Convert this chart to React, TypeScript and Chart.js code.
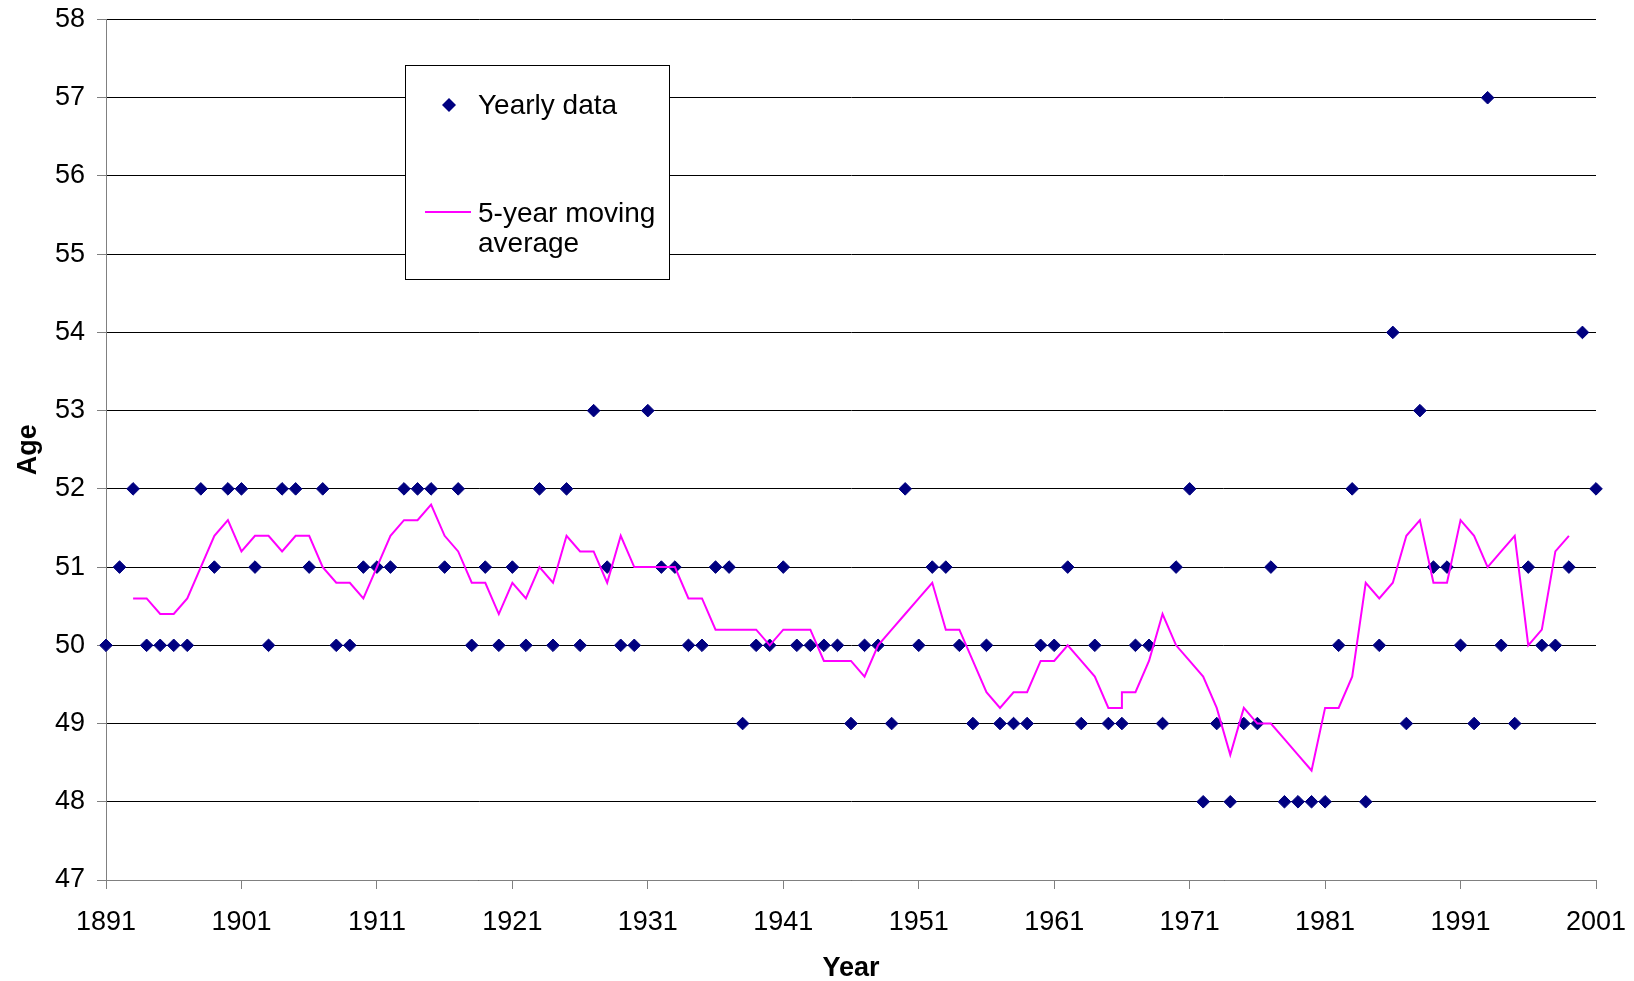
import React, { useEffect, useRef } from "react";
import { Chart, registerables } from "chart.js";

Chart.register(...registerables);

// ---- Data ----
const years: number[] = [
  1891, 1892, 1893, 1894, 1895, 1896, 1897, 1898, 1899, 1900,
  1901, 1902, 1903, 1904, 1905, 1906, 1907, 1908, 1909, 1910,
  1911, 1912, 1913, 1914, 1915, 1916, 1917, 1918, 1919, 1920,
  1921, 1922, 1923, 1924, 1925, 1926, 1927, 1928, 1929, 1930,
  1931, 1932, 1933, 1934, 1935, 1936, 1937, 1938, 1939, 1940,
  1941, 1942, 1943, 1944, 1945, 1946, 1947, 1948, 1949, 1950,
  1951, 1952, 1953, 1954, 1955, 1956, 1957, 1958, 1959, 1960,
  1961, 1962, 1963, 1964, 1965, 1966, 1967, 1968, 1969, 1970,
  1971, 1972, 1973, 1974, 1975, 1976, 1977, 1978, 1979, 1980,
  1981, 1982, 1983, 1984, 1985, 1986, 1987, 1988, 1989, 1990,
  1991, 1992, 1993, 1994, 1995, 1996, 1997, 1998, 1999, 2000,
  2001,
];

const ages: number[] = [
  50, 51, 52, 50, 50, 50, 50, 52, 51, 52,
  52, 51, 50, 52, 52, 51, 52, 50, 50, 51,
  51, 51, 52, 52, 52, 51, 52, 50, 51, 50,
  51, 50, 52, 50, 52, 50, 53, 51, 50, 50,
  53, 51, 51, 50, 50, 51, 51, 49, 50, 50,
  51, 50, 50, 50, 50, 49, 50, 50, 49, 52,
  50, 51, 51, 50, 49, 50, 49, 49, 49, 50,
  50, 51, 49, 50, 49, 49, 50, 50, 49, 51,
  52, 48, 49, 48, 49, 49, 51, 48, 48, 48,
  48, 50, 52, 48, 50, 54, 49, 53, 51, 51,
  50, 49, 57, 50, 49, 51, 50, 50, 51, 54,
  52,
];

const maYears: number[] = [
  1893, 1894, 1895, 1896, 1897, 1898, 1899, 1900,
  1901, 1902, 1903, 1904, 1905, 1906, 1907, 1908, 1909, 1910,
  1911, 1912, 1913, 1914, 1915, 1916, 1917, 1918, 1919, 1920,
  1921, 1922, 1923, 1924, 1925, 1926, 1927, 1928, 1929, 1930,
  1931, 1932, 1933, 1934, 1935, 1936, 1937, 1938, 1939, 1940,
  1941, 1942, 1943, 1944, 1945, 1946, 1947, 1948, 1949, 1950,
  1951, 1952, 1953, 1954, 1955, 1956, 1957, 1958, 1959, 1960,
  1961, 1962, 1963, 1964, 1965, 1966, 1966, 1967, 1968, 1969, 1970,
  1971, 1972, 1973, 1974, 1975, 1976, 1977, 1978, 1979, 1980,
  1981, 1982, 1983, 1984, 1985, 1986, 1987, 1988, 1989, 1990,
  1991, 1992, 1993, 1994, 1995, 1996, 1997, 1998, 1999,
];

const maValues: number[] = [
  50.6, 50.6, 50.4, 50.4, 50.6, 51.0, 51.4, 51.6,
  51.2, 51.4, 51.4, 51.2, 51.4, 51.4, 51.0, 50.8, 50.8, 50.6,
  51.0, 51.4, 51.6, 51.6, 51.8, 51.4, 51.2, 50.8, 50.8, 50.4,
  50.8, 50.6, 51.0, 50.8, 51.4, 51.2, 51.2, 50.8, 51.4, 51.0,
  51.0, 51.0, 51.0, 50.6, 50.6, 50.2, 50.2, 50.2, 50.2, 50.0,
  50.2, 50.2, 50.2, 49.8, 49.8, 49.8, 49.6, 50.0, 50.2, 50.4,
  50.6, 50.8, 50.2, 50.2, 49.8, 49.4, 49.2, 49.4, 49.4, 49.8,
  49.8, 50.0, 49.8, 49.6, 49.2, 49.2, 49.4, 49.4, 49.8, 50.4, 50.0,
  49.8, 49.6, 49.2, 48.6, 49.2, 49.0, 49.0, 48.8, 48.6, 48.4,
  49.2, 49.2, 49.6, 50.8, 50.6, 50.8, 51.4, 51.6, 50.8, 50.8,
  51.6, 51.4, 51.0, 51.2, 51.4, 50.0, 50.2, 51.2, 51.4,
];

const xTickValues: number[] = [1891, 1901, 1911, 1921, 1931, 1941, 1951, 1961, 1971, 1981, 1991, 2001];

const seriesNames: string[] = ["Yearly data", "5-year moving", "average"];
const axisTitles = { x: "Year", y: "Age" };

const FONT = "'Liberation Sans', Arial, Helvetica, sans-serif";
const NAVY = "#000080";
const MAGENTA = "#FF00FF";

const legendPlugin = {
  id: "excelLegend",
  afterDraw(chart: any) {
    const ctx = chart.ctx as CanvasRenderingContext2D;
    ctx.save();
    ctx.fillStyle = "#ffffff";
    ctx.fillRect(405, 65, 264, 214);
    ctx.strokeStyle = "#000000";
    ctx.lineWidth = 1;
    ctx.strokeRect(405.5, 65.5, 264, 214);
    const cx = 449, cy = 105, r = 7;
    ctx.fillStyle = NAVY;
    ctx.beginPath();
    ctx.moveTo(cx - r, cy);
    ctx.lineTo(cx, cy - r);
    ctx.lineTo(cx + r, cy);
    ctx.lineTo(cx, cy + r);
    ctx.closePath();
    ctx.fill();
    ctx.strokeStyle = MAGENTA;
    ctx.lineWidth = 2;
    ctx.beginPath();
    ctx.moveTo(425, 212);
    ctx.lineTo(471, 212);
    ctx.stroke();
    ctx.fillStyle = "#000000";
    ctx.font = `28px ${FONT}`;
    ctx.textBaseline = "middle";
    ctx.textAlign = "left";
    ctx.fillText(seriesNames[0], 478, 106);
    ctx.fillText(seriesNames[1], 478, 214);
    ctx.fillText(seriesNames[2], 478, 244);
    ctx.restore();
  },
};

const zeroPadding = (scale: any) => {
  scale.paddingTop = 0;
  scale.paddingBottom = 0;
  scale.paddingLeft = 0;
  scale.paddingRight = 0;
};

export default function App() {
  const canvasRef = useRef<HTMLCanvasElement | null>(null);

  useEffect(() => {
    document.body.style.margin = "0";
    const canvas = canvasRef.current;
    if (!canvas) return;

    const pointData = years.map((y, i) => ({ x: y, y: ages[i] }));
    const maData = maYears.map((y, i) => ({ x: y, y: maValues[i] }));

    const chart = new Chart(canvas, {
      type: "scatter",
      data: {
        datasets: [
          {
            label: "5-year moving average",
            data: maData,
            showLine: true,
            borderColor: MAGENTA,
            backgroundColor: MAGENTA,
            borderWidth: 2,
            pointRadius: 0,
            pointHoverRadius: 0,
            tension: 0,
            order: 0,
          },
          {
            label: "Yearly data",
            data: pointData,
            showLine: false,
            pointStyle: "rectRot",
            pointRadius: 6.3,
            pointHoverRadius: 6.3,
            backgroundColor: NAVY,
            borderColor: NAVY,
            borderWidth: 1,
            clip: false,
            order: 1,
          },
        ],
      } as any,
      options: {
        responsive: false,
        animation: false,
        devicePixelRatio: 1,
        layout: { padding: { top: 19.5, right: 38, bottom: 0, left: 0 } },
        plugins: {
          legend: { display: false },
          tooltip: { enabled: false },
        },
        scales: {
          x: {
            type: "linear",
            min: 1891,
            max: 2001,
            afterBuildTicks: (scale: any) => {
              scale.ticks = xTickValues.map((v) => ({ value: v }));
            },
            afterFit: (scale: any) => {
              scale.height = 101;
              zeroPadding(scale);
            },
            grid: {
              drawOnChartArea: false,
              drawTicks: true,
              tickLength: 9,
              color: "#808080",
              lineWidth: 1,
            },
            border: { display: true, color: "#808080", width: 1 },
            ticks: {
              autoSkip: false,
              maxRotation: 0,
              minRotation: 0,
              padding: 17,
              color: "#000000",
              font: { family: FONT, size: 27 },
              callback: (v: any) => String(v),
            },
            title: {
              display: true,
              text: axisTitles.x,
              color: "#000000",
              font: { family: FONT, size: 27, weight: "bold" },
              padding: { top: 0, bottom: -4 },
            },
          },
          y: {
            type: "linear",
            min: 47,
            max: 58,
            afterFit: (scale: any) => {
              scale.width = 106;
              zeroPadding(scale);
            },
            grid: {
              drawOnChartArea: true,
              drawTicks: true,
              tickLength: 9,
              color: "#000000",
              tickColor: "#808080",
              lineWidth: 1,
            },
            border: { display: true, color: "#808080", width: 1 },
            ticks: {
              stepSize: 1,
              padding: 12,
              color: "#000000",
              font: { family: FONT, size: 27 },
              callback: (v: any) => String(v),
            },
            title: {
              display: true,
              text: axisTitles.y,
              color: "#000000",
              font: { family: FONT, size: 27, weight: "bold" },
              padding: { top: 12, bottom: 0 },
            },
          },
        },
      } as any,
      plugins: [legendPlugin],
    });

    return () => {
      chart.destroy();
    };
  }, []);

  return (
    <div style={{ position: "fixed", left: 0, top: 0, width: 1634, height: 981, background: "#ffffff" }}>
      <canvas ref={canvasRef} width={1634} height={981} style={{ display: "block", width: 1634, height: 981 }} />
    </div>
  );
}
